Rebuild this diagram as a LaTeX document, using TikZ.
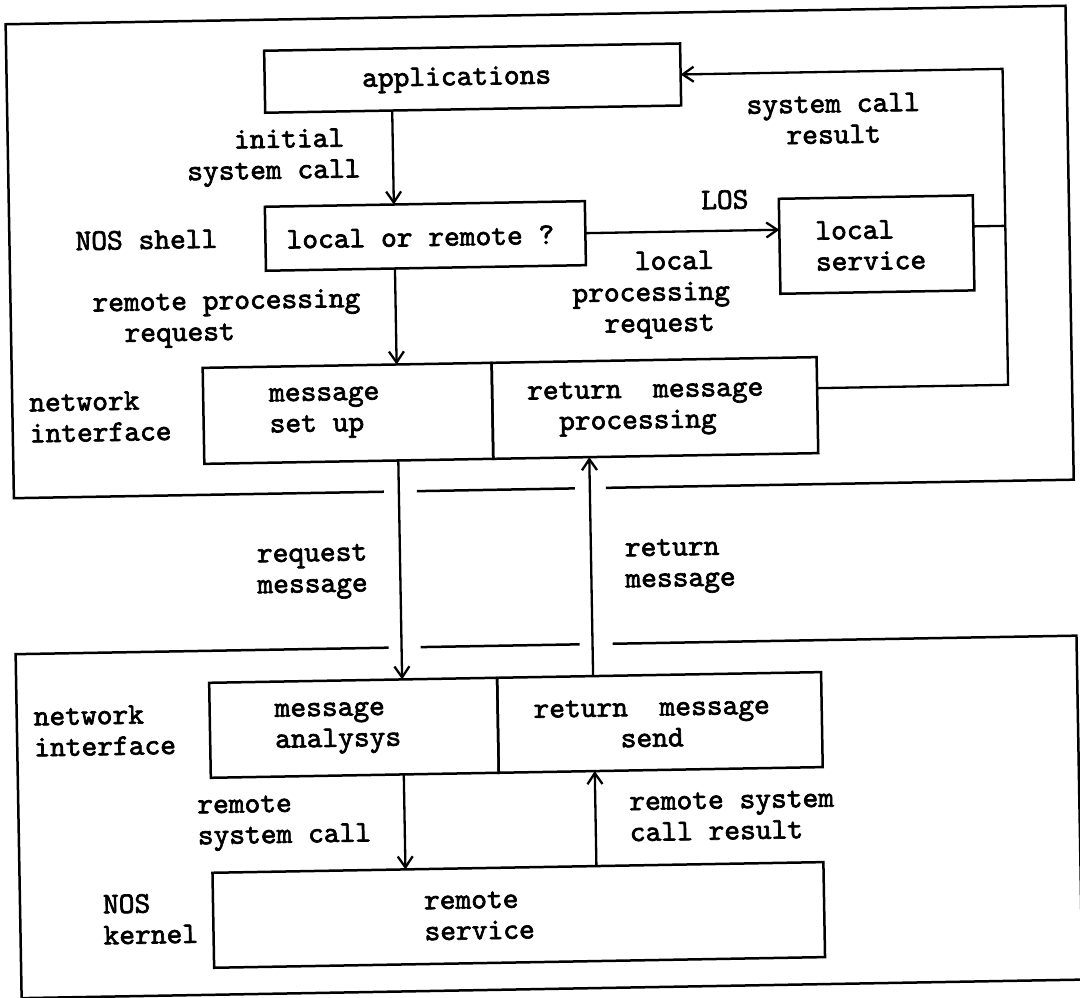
\documentclass[tikz,border=0pt]{standalone}
\usepackage{fontspec}
\newfontfamily\tw{lmmono10-regular.otf}[FakeBold=2.2]
\usetikzlibrary{arrows.meta}
\begin{document}
\begin{tikzpicture}[x=1pt,y=-1pt,
  every node/.style={font=\tw\fontsize{30}{31}\selectfont, inner sep=0pt, outer sep=0pt},
  box/.style={draw, line width=2.5pt, rectangle},
  lbl/.style={align=left, anchor=west},
  clbl/.style={align=center},
  arr/.style={line width=2.3pt, -{Straight Barb[length=11pt,width=15pt]}},
  wire/.style={line width=2.3pt},
  frame/.style={line width=2.5pt},
]
\useasboundingbox (0,0) rectangle (1080,998);
\begin{scope}[rotate around={1:(540,499)}, transform shape]

% host frame (top) and server frame (bottom), open where the messages pass
\draw[frame] (384,489) -- (14,489) -- (14,15) -- (1074,15) -- (1074,489) -- (606,489);
\draw[frame] (417,489) -- (575,489);
\draw[frame] (386,645) -- (13,645) -- (13,989) -- (1074,989) -- (1074,645) -- (610,645);
\draw[frame] (418,645) -- (577,645);

% columns used by the vertical message paths
\coordinate (colL) at (399,0);
\coordinate (colR) at (590,0);
\coordinate (ret) at (1010,393);

% boxes
\node[box, minimum width=416pt, minimum height=62pt] (app) at (480,77) {};
\node[box, minimum width=320pt, minimum height=64pt] (lor) at (430,234) {};
\node[box, minimum width=194pt, minimum height=95pt] (lsvc) at (881,250.5) {};
\node[box, minimum width=289pt, minimum height=96pt] (msetup) at (349.5,410) {};
\node[box, minimum width=325pt, minimum height=96pt] (rmproc) at (656.5,410) {};
\node[box, minimum width=288pt, minimum height=95pt] (anls) at (350,724.5) {};
\node[box, minimum width=324pt, minimum height=95pt] (rmsend) at (656,724.5) {};
\node[box, minimum width=611pt, minimum height=95pt] (rsvc) at (511.5,914.5) {};

% box texts
\node (t-app) at (464,78) {applications};
\node (t-lor) at (425,235) {local or remote ?};
\node[lbl] (t-lsvc) at (820,251) {local\\service};
\node[lbl] (t-msetup) at (271,409) {message\\set up};
\node[lbl] (t-rmproc) at (529,410) {return\hphantom{xx}message\\\hphantom{xx}processing};
\node[lbl] (t-anls) at (271,724.5) {message\\analysys};
\node[clbl] (t-rmsend) at (648,725) {return\hphantom{xx}message\\send};
\node[lbl] (t-rsvc) at (417,914.5) {remote\\service};

% side captions
\node (t-nos) at (151,233) {NOS shell};
\node[lbl] (t-ni1) at (31,409) {network\\interface};
\node[lbl] (t-ni2) at (30,723) {network\\interface};
\node[lbl] (t-nk) at (96,912) {NOS\\kernel};

% connector labels
\node[lbl] (t-isc) at (193,153) {\hphantom{xxx}initial\\system call};
\node[clbl] (t-scr) at (840,124) {system call\\result};
\node (t-los) at (730,203) {LOS};
\node[lbl] (t-lpr) at (576,297) {\hphantom{xxxx}local\\processing\\\hphantom{xx}request};
\node[lbl] (t-rpr) at (96,313.5) {remote processing\\\hphantom{xx}request};
\node[lbl] (t-reqm) at (256,568) {request\\message};
\node[lbl] (t-retm) at (624,568.5) {return\\message};
\node[lbl] (t-rsc) at (192,818) {remote\\system call};
\node[lbl] (t-rscr) at (624,819) {remote system\\call result};

% connectors
\draw[arr] (app.south -| colL) -- (lor.north -| colL);
\draw[arr] (lor.south -| colL) -- (msetup.north -| colL);
\draw[arr] (lor.east) -- (lsvc.west |- lor.east);
\draw[wire] (lsvc.east |- lor.east) -- (ret |- lor.east);
\draw[arr] (rmproc.east |- ret) -- (ret) -- (ret |- app.east) -- (app.east);
\draw[arr] (msetup.south -| colL) -- (anls.north -| colL);
\draw[arr] (rmsend.north -| colR) -- (rmproc.south -| colR);
\draw[arr] (anls.south -| colL) -- (rsvc.north -| colL);
\draw[arr] (rsvc.north -| colR) -- (rmsend.south -| colR);

\end{scope}
\end{tikzpicture}
\end{document}
